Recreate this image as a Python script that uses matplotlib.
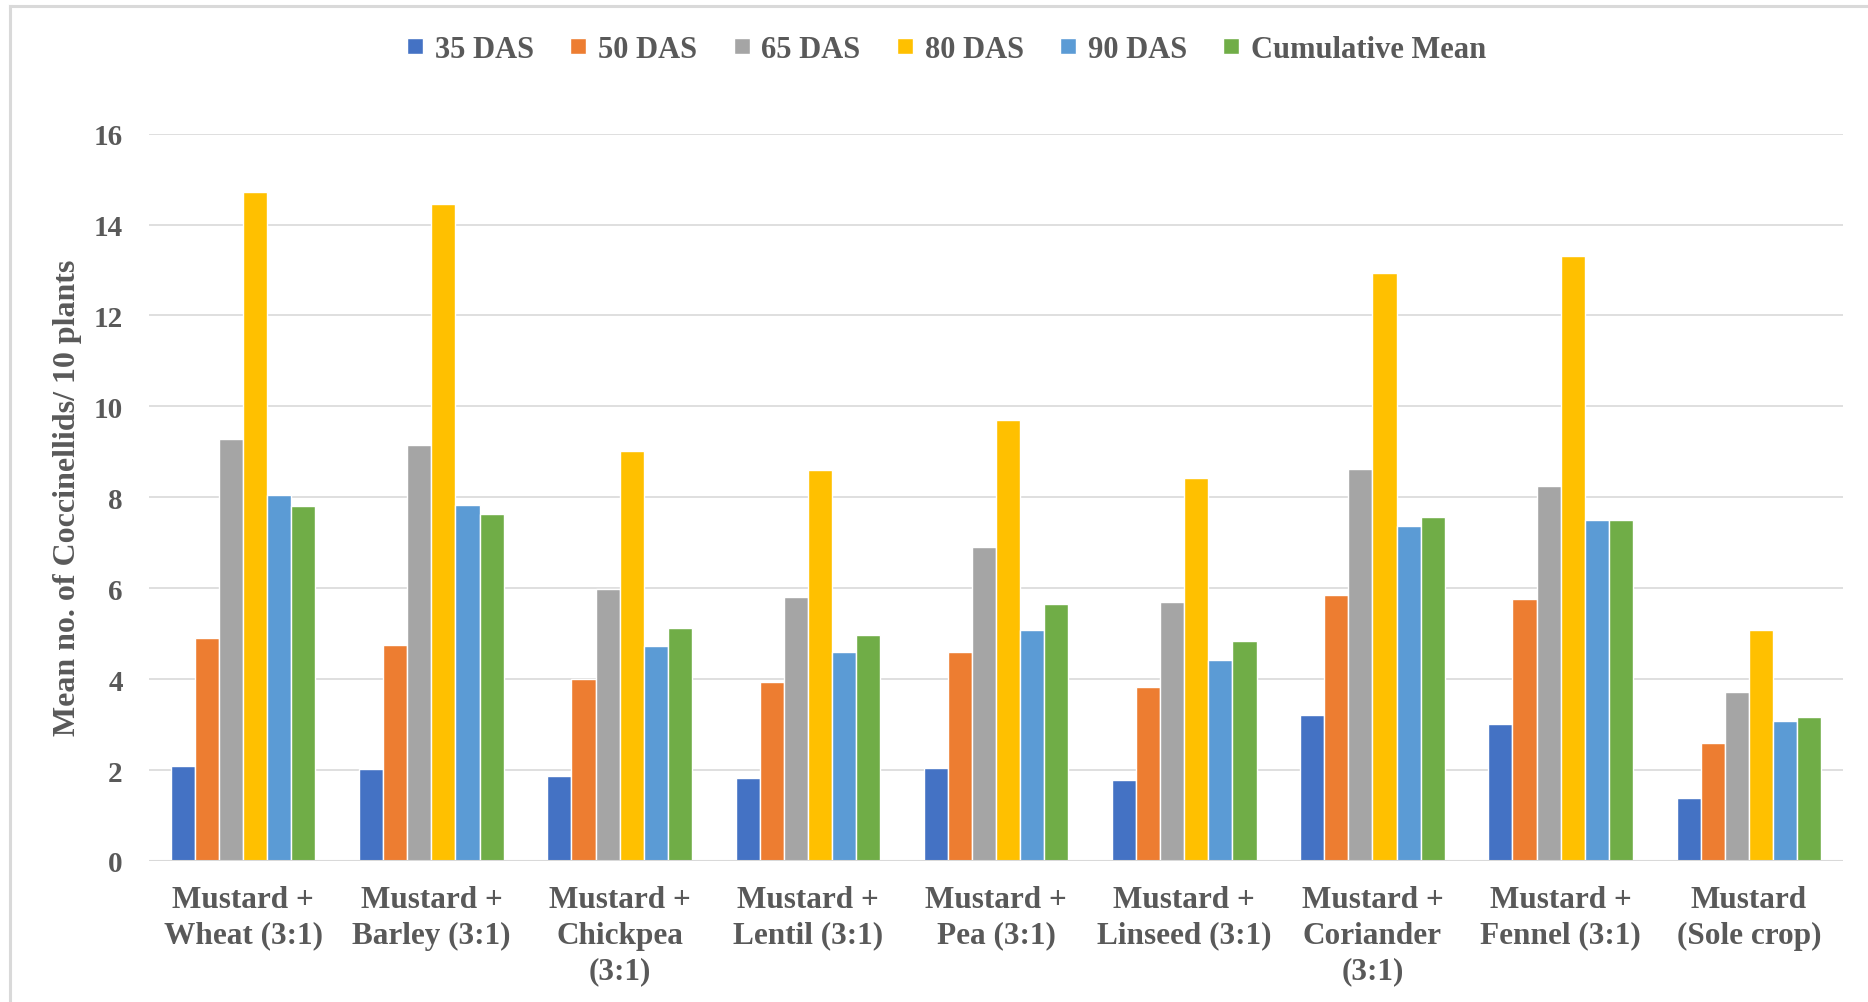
import numpy as np
import matplotlib.pyplot as plt
from matplotlib.lines import Line2D

categories = ["Mustard +\nWheat (3:1)", "Mustard +\nBarley (3:1)", "Mustard +\nChickpea\n(3:1)",
              "Mustard +\nLentil (3:1)", "Mustard +\nPea (3:1)", "Mustard +\nLinseed (3:1)",
              "Mustard +\nCoriander\n(3:1)", "Mustard +\nFennel (3:1)", "Mustard\n(Sole crop)"]

das35 = [2.08, 2.02, 1.88, 1.83, 2.05, 1.79, 3.22, 3.02, 1.39]
das50 = [4.90, 4.76, 4.00, 3.94, 4.59, 3.82, 5.84, 5.76, 2.60]
das65 = [9.29, 9.16, 5.98, 5.81, 6.90, 5.70, 8.63, 8.24, 3.72]
das80 = [14.71, 14.45, 9.02, 8.60, 9.70, 8.42, 12.94, 13.31, 5.09]
das90 = [8.06, 7.82, 4.73, 4.59, 5.07, 4.43, 7.37, 7.50, 3.08]
cum_mean = [7.80, 7.63, 5.12, 4.96, 5.66, 4.83, 7.56, 7.50, 3.16]

series = [("35 DAS", das35, "#4472C4"), ("50 DAS", das50, "#ED7D31"),
          ("65 DAS", das65, "#A5A5A5"), ("80 DAS", das80, "#FFC000"),
          ("90 DAS", das90, "#5B9BD5"), ("Cumulative Mean", cum_mean, "#70AD47")]

txt = "#595959"
plt.rcParams["font.family"] = ["Liberation Serif", "DejaVu Serif"]
plt.rcParams["font.weight"] = "bold"

fig = plt.figure(figsize=(18.68, 10.03), dpi=100)
ax = fig.add_axes([0.0798, 0.1406, 0.9068, 0.7252])

x = np.arange(len(categories))
slot = 0.128
for i, (name, vals, col) in enumerate(series):
    ax.bar(x + (i - 2.5) * slot, vals, width=slot, color=col, edgecolor="white",
           linewidth=1.0, label=name, zorder=3)

ax.set_xlim(-0.5, len(categories) - 0.5)
ax.set_ylim(0, 16)
ax.set_yticks(np.arange(0, 17, 2))
ax.yaxis.grid(True, color="#D9D9D9", linewidth=1.2, zorder=0)
ax.axhline(0, color="#D9D9D9", linewidth=1.5, zorder=4)
for s in ax.spines.values():
    s.set_visible(False)
ax.tick_params(axis="y", length=0, pad=19, labelsize=21, labelcolor=txt)
ax.tick_params(axis="x", length=0, pad=17, labelsize=22.5, labelcolor=txt)
ax.set_xticks(x)
ax.set_xticklabels(categories, linespacing=1.32)
ax.set_ylabel("Mean no. of Coccinellids/ 10 plants", fontsize=23, color=txt,
              fontweight="bold", labelpad=8)

handles = [Line2D([], [], marker="s", linestyle="none", markersize=11,
                  markerfacecolor=c, markeredgecolor="white") for _, _, c in series]
fig.legend(handles, [n for n, _, _ in series], loc="center", bbox_to_anchor=(0.507, 0.950),
           ncol=6, frameon=False, fontsize=22, labelcolor=txt, handlelength=0.5,
           handletextpad=0.4, columnspacing=1.2)

# chart frame (left and top edges visible in the original crop)
fig.add_artist(Line2D([0.0056, 0.0056], [0.0, 0.993], color="#D9D9D9", linewidth=2.2,
                      transform=fig.transFigure))
fig.add_artist(Line2D([0.0056, 1.0], [0.993, 0.993], color="#D9D9D9", linewidth=2.2,
                      transform=fig.transFigure))

fig.savefig("out.png", dpi=100)
